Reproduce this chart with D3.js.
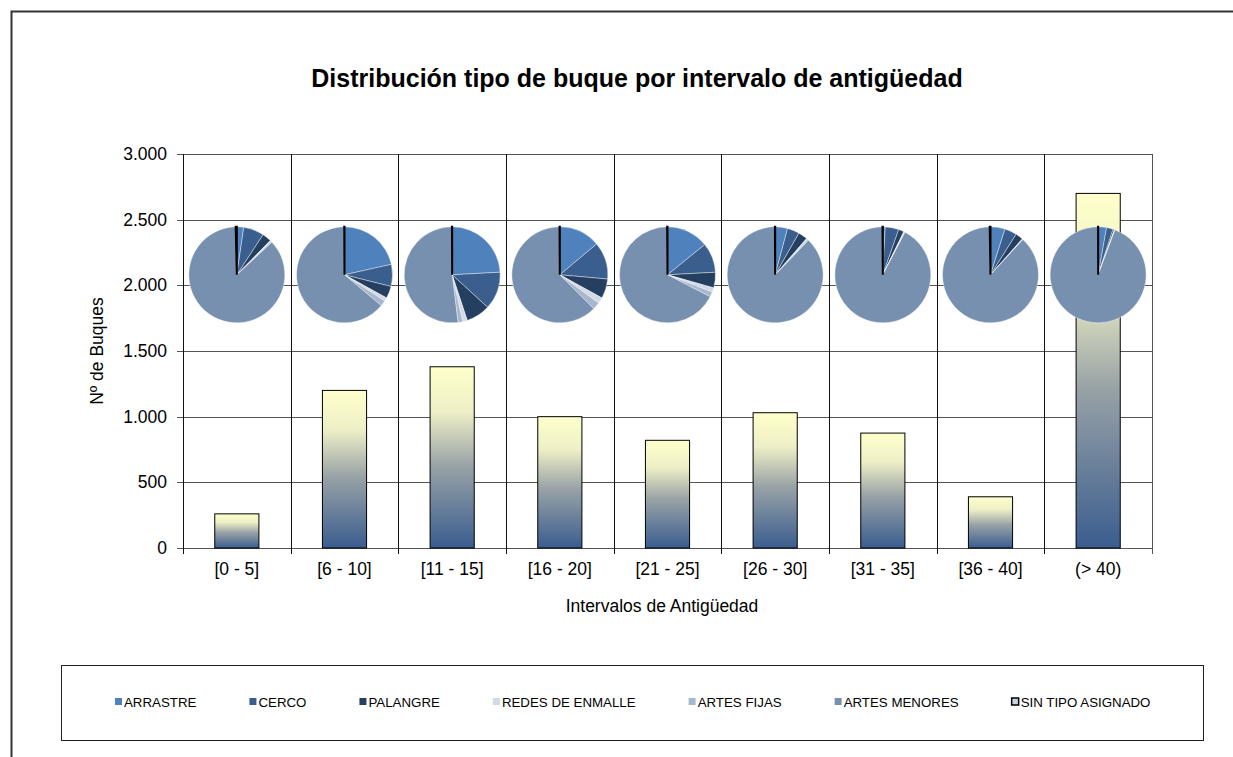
<!DOCTYPE html>
<html>
<head>
<meta charset="utf-8">
<script src="https://cdn.jsdelivr.net/npm/d3@7"></script>
<style>
  body { margin: 0; background: #fff; }
  svg { display: block; font-family: Arial, 'Liberation Sans', sans-serif; }
</style>
</head>
<body>
<div id="chart"></div>
<script>
// intervals of vessel age
const intervals = ['[0 - 5]', '[6 - 10]', '[11 - 15]', '[16 - 20]', '[21 - 25]', '[26 - 30]', '[31 - 35]', '[36 - 40]', '(> 40)'];

// number of vessels per type and interval
const arrastre = [6, 258, 333, 139, 116, 43, 7, 19, 76];
const cerco = [18, 89, 175, 125, 82, 42, 40, 16, 59];
const palangre = [8, 49, 112, 66, 43, 32, 16, 10, 13];
const redesEnmalle = [1, 14, 21, 20, 12, 5, 2, 1, 3];
const artesFijas = [1, 23, 22, 25, 14, 4, 2, 0, 3];
const artesMenores = [225, 766, 716, 624, 552, 903, 807, 343, 2545];
const sinTipo = [1, 1, 1, 1, 1, 1, 1, 1, 1];

const typeNames = ['ARRASTRE', 'CERCO', 'PALANGRE', 'REDES DE ENMALLE', 'ARTES FIJAS', 'ARTES MENORES', 'SIN TIPO ASIGNADO'];
const typeValues = [arrastre, cerco, palangre, redesEnmalle, artesFijas, artesMenores, sinTipo];
const typeColors = ['#4F81BD', '#3A5F8F', '#243F60', '#D3DAE5', '#A7B8CE', '#7890B0', '#C9D3E0'];

const yTicks = [0, 500, 1000, 1500, 2000, 2500, 3000];
const pieLevel = 2080; // vertical position of the pies, in axis units

const width = 1233;
const height = 757;
const margin = { top: 154, right: 81, bottom: 209, left: 183 };
const plotW = width - margin.left - margin.right;
const plotH = height - margin.top - margin.bottom;

const locale = d3.formatLocale({ decimal: ',', thousands: '.', grouping: [3], currency: ['', ''] });
const fmt = locale.format(',d');

const totals = intervals.map((d, i) => d3.sum(typeValues, v => v[i]));

const svg = d3.select('#chart')
  .append('svg')
  .attr('width', width)
  .attr('height', height);

// outer frame
svg.append('rect')
  .attr('x', 11.5)
  .attr('y', 11.5)
  .attr('width', 1300)
  .attr('height', 900)
  .attr('fill', 'none')
  .attr('stroke', '#333')
  .attr('stroke-width', 2);

// title
svg.append('text')
  .attr('x', 637)
  .attr('y', 87)
  .attr('text-anchor', 'middle')
  .style('font-size', '25px')
  .style('font-weight', 'bold')
  .text('Distribución tipo de buque por intervalo de antigüedad');

const g = svg.append('g')
  .attr('transform', `translate(${margin.left},${margin.top})`);

const x = d3.scaleBand().domain(intervals).range([0, plotW]).padding(0);
const y = d3.scaleLinear().domain([0, 3000]).range([plotH, 0]);

// gradient for the bars
const grad = svg.append('defs')
  .append('linearGradient')
  .attr('id', 'barGrad')
  .attr('x1', 0).attr('y1', 0)
  .attr('x2', 0).attr('y2', 1);
grad.append('stop').attr('offset', '0%').attr('stop-color', '#FFFFCC');
grad.append('stop').attr('offset', '25%').attr('stop-color', '#EEEFC6');
grad.append('stop').attr('offset', '55%').attr('stop-color', '#98A2A6');
grad.append('stop').attr('offset', '100%').attr('stop-color', '#3A5D8F');

// horizontal gridlines
g.append('g')
  .selectAll('line')
  .data(yTicks)
  .enter()
  .append('line')
  .attr('x1', -6)
  .attr('x2', plotW)
  .attr('y1', d => Math.round(y(d)) + 0.5)
  .attr('y2', d => Math.round(y(d)) + 0.5)
  .attr('stroke', '#555');

// vertical category lines
const bounds = intervals.map(d => x(d)).concat([plotW]);
g.append('g')
  .selectAll('line')
  .data(bounds)
  .enter()
  .append('line')
  .attr('x1', d => Math.round(d) + 0.5)
  .attr('x2', d => Math.round(d) + 0.5)
  .attr('y1', 0)
  .attr('y2', plotH + 6)
  .attr('stroke', (d, i) => (i === bounds.length - 1 ? '#555' : '#111'));

// y tick labels
g.append('g')
  .selectAll('text')
  .data(yTicks)
  .enter()
  .append('text')
  .attr('x', -16)
  .attr('y', d => y(d))
  .attr('dy', '0.35em')
  .attr('text-anchor', 'end')
  .style('font-size', '17.5px')
  .text(d => fmt(d));

// x tick labels
g.append('g')
  .selectAll('text')
  .data(intervals)
  .enter()
  .append('text')
  .attr('x', d => x(d) + x.bandwidth() / 2)
  .attr('y', plotH + 27)
  .attr('text-anchor', 'middle')
  .style('font-size', '17.5px')
  .text(d => d);

// bars
const barW = x.bandwidth() * 0.41;
g.append('g')
  .selectAll('rect')
  .data(intervals)
  .enter()
  .append('rect')
  .attr('x', d => x(d) + (x.bandwidth() - barW) / 2)
  .attr('y', (d, i) => y(totals[i]))
  .attr('width', barW)
  .attr('height', (d, i) => plotH - y(totals[i]))
  .attr('fill', 'url(#barGrad)')
  .attr('stroke', '#000')
  .attr('stroke-width', 1);

// axis titles
svg.append('text')
  .attr('transform', `translate(103,${margin.top + plotH / 2}) rotate(-90)`)
  .attr('text-anchor', 'middle')
  .style('font-size', '17.5px')
  .text('Nº de Buques');

svg.append('text')
  .attr('x', 662)
  .attr('y', 612)
  .attr('text-anchor', 'middle')
  .style('font-size', '17.5px')
  .text('Intervalos de Antigüedad');

// pies
const pie = d3.pie().sort(null).value(d => d.value);
const arc = d3.arc().innerRadius(0).outerRadius(48);

intervals.forEach((name, i) => {
  const slices = typeNames.map((t, k) => ({ type: t, k, value: typeValues[k][i] }));
  const pg = g.append('g')
    .attr('transform', `translate(${x(name) + x.bandwidth() / 2},${y(pieLevel)})`);
  pg.selectAll('path')
    .data(pie(slices))
    .enter()
    .append('path')
    .attr('d', arc)
    .attr('fill', d => typeColors[d.data.k])
    .attr('stroke', d => (d.data.k === 6 ? '#000' : '#fff'))
    .attr('stroke-width', d => (d.data.k === 6 ? 2 : 0.4));
});

// legend
const legend = svg.append('g');
legend.append('rect')
  .attr('x', 61.5)
  .attr('y', 665.5)
  .attr('width', 1142)
  .attr('height', 75)
  .attr('fill', '#fff')
  .attr('stroke', '#222');

let lx = 115;
typeNames.forEach((t, k) => {
  const item = legend.append('g').attr('transform', `translate(${lx},702)`);
  item.append('rect')
    .attr('x', 0)
    .attr('y', -4)
    .attr('width', 7)
    .attr('height', 7)
    .attr('fill', typeColors[k])
    .attr('stroke', k === 6 ? '#000' : 'none')
    .attr('stroke-width', 1.5);
  const label = item.append('text')
    .attr('x', 9)
    .attr('y', 0)
    .attr('dy', '0.35em')
    .style('font-size', '13.3px')
    .text(t);
  lx += 9 + label.node().getComputedTextLength() + 53;
});
</script>
</body>
</html>
